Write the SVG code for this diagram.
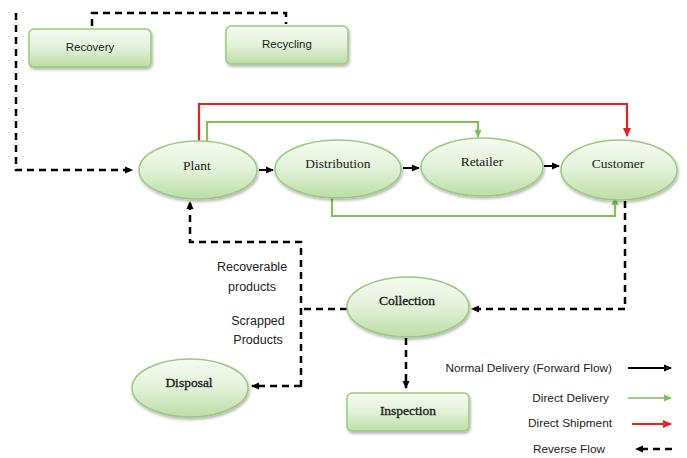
<svg xmlns="http://www.w3.org/2000/svg" width="687" height="458" viewBox="0 0 687 458">
<style>
.node{fill:url(#g);stroke:#9cc97f;stroke-width:1.5;filter:url(#sh)}
.ser{font-family:"Liberation Serif",serif;font-size:13.5px;fill:#222;text-anchor:middle}
.b{stroke:#222;stroke-width:0.35}
.sans{font-family:"Liberation Sans",sans-serif;font-size:11.5px;fill:#222;text-anchor:middle}
.lab{font-size:12.5px}
.leg{font-family:"Liberation Sans",sans-serif;font-size:11.8px;fill:#222;text-anchor:end}
.blk{stroke:#000;stroke-width:2;fill:none}
.grn{stroke:#7fc25a;stroke-width:2.2;fill:none}
.red{stroke:#e8201e;stroke-width:2.2;fill:none}
.dash{stroke:#000;stroke-width:2.5;fill:none;stroke-dasharray:7 5}
</style>
<defs>
<linearGradient id="g" x1="0" y1="0" x2="0" y2="1">
<stop offset="0" stop-color="#f6fbf2"/>
<stop offset="0.5" stop-color="#e2f1d8"/>
<stop offset="1" stop-color="#bcdda6"/>
</linearGradient>
<filter id="sh" x="-20%" y="-20%" width="140%" height="150%">
<feDropShadow dx="1" dy="2" stdDeviation="1.5" flood-color="#000" flood-opacity="0.3"/>
</filter>
<marker id="ab" markerWidth="8" markerHeight="8" refX="7" refY="4" orient="auto" markerUnits="userSpaceOnUse"><path d="M0,0.5 L8,4 L0,7.5 Z" fill="#000"/></marker>
<marker id="ag" markerWidth="8" markerHeight="8" refX="7" refY="4" orient="auto" markerUnits="userSpaceOnUse"><path d="M0,0.5 L8,4 L0,7.5 Z" fill="#7fc25a"/></marker>
<marker id="ar" markerWidth="9" markerHeight="9" refX="8" refY="4.5" orient="auto" markerUnits="userSpaceOnUse"><path d="M0,0.5 L9,4.5 L0,8.5 Z" fill="#e8201e"/></marker>
</defs>

<g id="connectors">
<path class="dash" d="M92,26 V13 H286 V24"/>
<path class="dash" d="M16,13 V170 H132" marker-end="url(#ab)"/>
<path class="blk" d="M259,170 H273" marker-end="url(#ab)"/>
<path class="blk" d="M403,168 H419" marker-end="url(#ab)"/>
<path class="blk" d="M544,166 H559" marker-end="url(#ab)"/>
<path class="red" d="M199,141 V104 H627 V136" marker-end="url(#ar)"/>
<path class="grn" d="M207,142 V122 H478 V137" marker-end="url(#ag)"/>
<path class="grn" d="M332,198 V216 H615 V198" marker-end="url(#ag)"/>
<path class="dash" d="M625,201 V309 H472" marker-end="url(#ab)"/>
<path class="dash" d="M347,309 H301"/>
<path class="dash" d="M301,387 V242 H190 V202" marker-end="url(#ab)"/>
<path class="dash" d="M301,386 H252" marker-end="url(#ab)"/>
<path class="dash" d="M406,338 V388" marker-end="url(#ab)"/>
</g>

<g id="recovery"><rect class="node" x="29" y="29" width="122" height="38" rx="5"/><text class="sans" x="90" y="51">Recovery</text></g>
<g id="recycling"><rect class="node" x="226" y="26" width="122" height="38" rx="5"/><text class="sans" x="287" y="48">Recycling</text></g>
<g id="plant"><ellipse class="node" cx="198" cy="170" rx="59" ry="29"/><text class="ser" x="197" y="170">Plant</text></g>
<g id="distribution"><ellipse class="node" cx="338" cy="169" rx="63" ry="29"/><text class="ser" x="338" y="168">Distribution</text></g>
<g id="retailer"><ellipse class="node" cx="482" cy="167" rx="61" ry="29"/><text class="ser" x="482" y="166">Retailer</text></g>
<g id="customer"><ellipse class="node" cx="619" cy="170" rx="58" ry="30"/><text class="ser" x="618" y="168">Customer</text></g>
<g id="collection"><ellipse class="node" cx="408" cy="307" rx="61" ry="30"/><text class="ser b" x="407" y="305">Collection</text></g>
<g id="disposal"><ellipse class="node" cx="190" cy="388" rx="58" ry="29"/><text class="ser b" x="189" y="387">Disposal</text></g>
<g id="inspection"><rect class="node" x="347" y="393" width="122" height="38" rx="5"/><text class="ser b" x="408" y="415">Inspection</text></g>

<g id="labels">
<text class="sans lab" x="252" y="271">Recoverable</text>
<text class="sans lab" x="252" y="291">products</text>
<text class="sans lab" x="258" y="325">Scrapped</text>
<text class="sans lab" x="258" y="344">Products</text>
</g>

<g id="legend">
<text class="leg" x="612" y="372">Normal Delivery (Forward Flow)</text>
<path class="blk" d="M628,368 H671" marker-end="url(#ab)"/>
<text class="leg" x="609" y="402">Direct Delivery</text>
<path d="M628,398 H671" stroke="#7fc25a" stroke-width="1.5" fill="none" marker-end="url(#ag)"/>
<text class="leg" x="612" y="427">Direct Shipment</text>
<path class="red" d="M632,424 H671" marker-end="url(#ar)"/>
<text class="leg" x="605" y="453">Reverse Flow</text>
<path class="dash" d="M672,449 H636" marker-end="url(#ab)"/>
</g>
</svg>
